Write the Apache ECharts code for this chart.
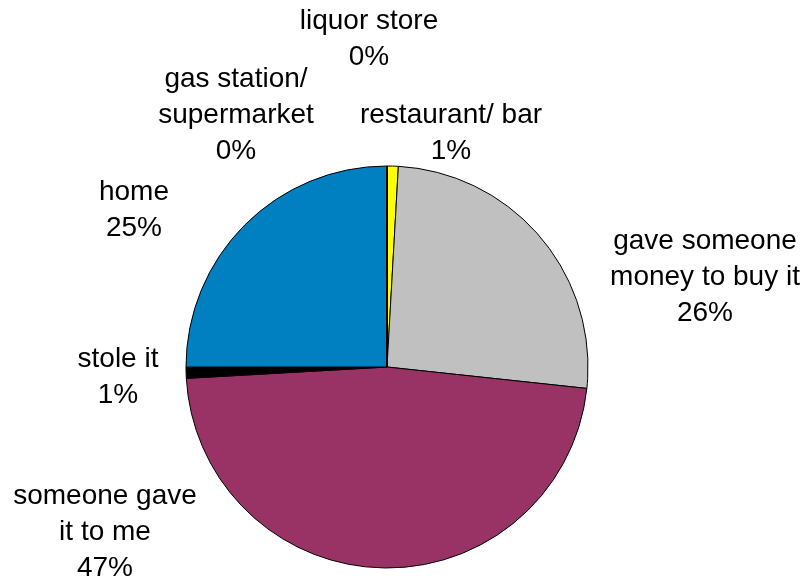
<!DOCTYPE html>
<html>
<head>
<meta charset="utf-8">
<script src="https://cdn.jsdelivr.net/npm/echarts@6/dist/echarts.min.js"></script>
<style>
  html, body { margin: 0; padding: 0; background: #fff; }
  #main { width: 808px; height: 582px; }
</style>
</head>
<body>
<div id="main"></div>
<script>
// clockwise from 12 o'clock
var categories = ['restaurant/ bar', 'gave someone\nmoney to buy it', 'someone gave\nit to me', 'stole it', 'home', 'gas station/\nsupermarket', 'liquor store']
var values = [0.9, 25.8, 47.4, 0.9, 25.0, 0, 0]
var colors = ['#FFFF00', '#C0C0C0', '#993366', '#000000', '#0080C0', '#FFFFFF', '#FFFFFF']

// label block centres
var labelPos = [
  [451, 133],
  [705, 277],
  [105, 532],
  [118, 377],
  [134, 210],
  [236, 115],
  [369, 39],
]

var myChart = echarts.init(document.getElementById('main'))

var option = {
  animation: false,
  series: [
    {
      type: 'pie',
      center: [387, 367],
      radius: 201,
      startAngle: 90,
      clockwise: true,
      avoidLabelOverlap: false,
      percentPrecision: 0,
      data: categories.map(function (c, i) {
        return { name: c, value: values[i], itemStyle: { color: colors[i] } }
      }),
      itemStyle: {
        borderColor: '#000',
        borderWidth: 1,
      },
      label: {
        show: true,
        position: 'outside',
        formatter: '{b}\n{d}%',
        fontFamily: 'Liberation Sans, Arial',
        fontSize: 28,
        lineHeight: 36,
        color: '#000',
        align: 'center',
      },
      labelLine: { show: false },
      emphasis: { disabled: true },
      labelLayout: function (params) {
        var p = labelPos[params.dataIndex]
        return { x: p[0], y: p[1], align: 'center', verticalAlign: 'middle' }
      },
    },
  ],
}

myChart.setOption(option)
</script>
</body>
</html>
